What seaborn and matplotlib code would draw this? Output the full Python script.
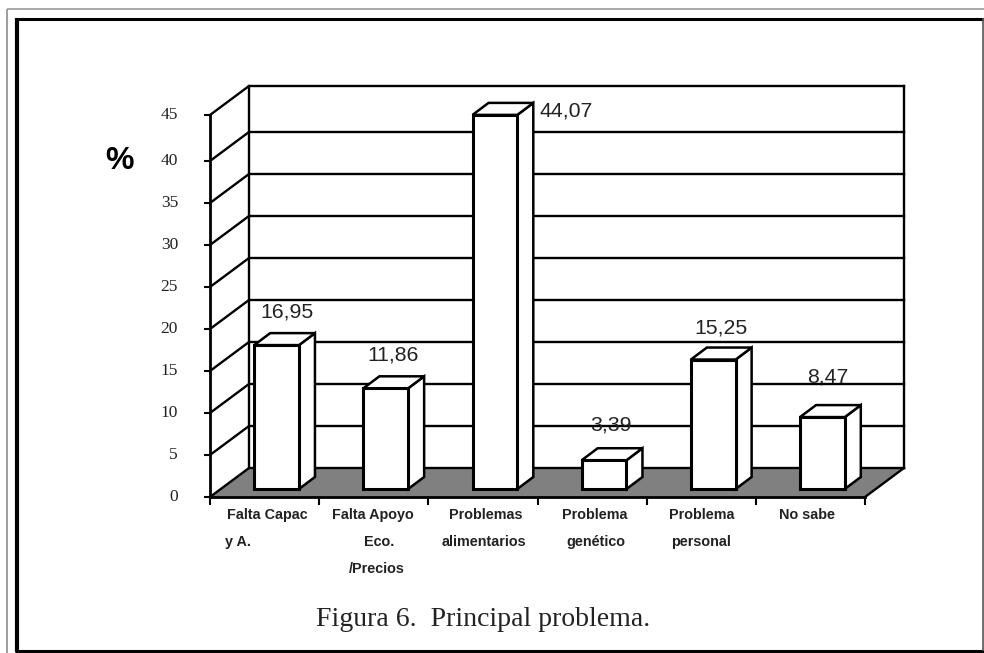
import matplotlib
matplotlib.use("Agg")
import matplotlib.pyplot as plt
from matplotlib.patches import Polygon
from matplotlib.transforms import ScaledTranslation
import numpy as np
import pandas as pd
import seaborn as sns

W, H = 984, 653

# valores
categorias = ["Falta Capac y A.", "Falta Apoyo Eco. /Precios", "Problemas alimentarios",
              "Problema genético", "Problema personal", "No sabe"]
valores = [16.95, 11.86, 44.07, 3.39, 15.25, 8.47]
etiquetas = ["16,95", "11,86", "44,07", "3,39", "15,25", "8,47"]
ticks_y = [0, 5, 10, 15, 20, 25, 30, 35, 40, 45]

# lineas de cada etiqueta del eje x: (texto, x centro, y centro) en pixeles
lineas_x = [("Falta Capac", 267, 515), ("y A.", 238, 542),
            ("Falta Apoyo", 373, 515), ("Eco.", 379, 542), ("/Precios", 377, 569),
            ("Problemas", 486, 515), ("alimentarios", 484, 542),
            ("Problema", 595, 515), ("genético", 596, 542),
            ("Problema", 702, 515), ("personal", 701, 542),
            ("No sabe", 807, 515)]
pos_etiquetas = [(287, 312), (393, 355), (566, 111), (611, 425), (721, 328), (828, 377)]


def ejes_px(fig, x0, x1, y0, y1):
    # y0 = pixel de abajo, y1 = pixel de arriba (desde arriba de la imagen)
    return fig.add_axes([x0 / W, 1 - y0 / H, (x1 - x0) / W, (y0 - y1) / H])


fig = plt.figure(figsize=(W / 100, H / 100), dpi=100)
fondo = fig.add_axes([0, 0, 1, 1])
fondo.set_xlim(0, W)
fondo.set_ylim(H, 0)
fondo.axis("off")

# marco de la pagina
fondo.plot([6.5, 6.5], [H, 9], color="#8c8c8c", lw=1.2, solid_capstyle="butt")
fondo.plot([6.5, W], [9, 9], color="#9a9a9a", lw=1.2, solid_capstyle="butt")
fondo.plot([16.5, 16.5], [17.5, 652], color="black", lw=3, solid_capstyle="butt")
fondo.plot([14.5, W], [18.8, 18.8], color="black", lw=2.2, solid_capstyle="butt")
fondo.plot([14.5, W], [650.5, 650.5], color="black", lw=2.2, solid_capstyle="butt")
fondo.plot([983, 983], [18, 651], color="#555555", lw=1.2, solid_capstyle="butt")

# plano frontal: cada 5 unidades son 42 px, el techo queda en y=115
ax = ejes_px(fig, 210, 865, 497, 115)
ax.patch.set_alpha(0)
uy = 42 / 5
ux = 655 / 6
techo = 382 / uy
ax.set_xlim(-0.5, 5.5)
ax.set_ylim(0, techo)
fx = 39 / ux
fy = 29 / uy
pos_y = [t for t in ticks_y[:-1]] + [techo]

# suelo y paredes del grafico 3D
ax.add_patch(Polygon([(-0.5, 0), (5.5, 0), (5.5 + fx, fy), (-0.5 + fx, fy)],
                     closed=True, fc="#808080", ec="none", clip_on=False, zorder=1))
for t in pos_y:
    ax.plot([-0.5, -0.5 + fx, 5.5 + fx], [t, t + fy, t + fy], color="black", lw=1.7,
            clip_on=False, zorder=2, solid_joinstyle="miter")
ax.plot([-0.5 + fx, -0.5 + fx], [fy, techo + fy], color="black", lw=1.7, clip_on=False, zorder=2)
ax.plot([5.5 + fx, 5.5 + fx], [fy, techo + fy], color="black", lw=1.7, clip_on=False, zorder=2)
ax.plot([5.5, 5.5 + fx], [0, fy], color="black", lw=1.7, clip_on=False, zorder=2)

for s in ["top", "right"]:
    ax.spines[s].set_visible(False)
for s in ["left", "bottom"]:
    ax.spines[s].set_linewidth(2)
    ax.spines[s].set_zorder(3)
ax.set_xticks(np.arange(-0.5, 6, 1))
ax.set_xticklabels([])
ax.tick_params(axis="x", length=5.5, width=1.5, color="black")
ax.set_yticks(pos_y)
ax.set_yticklabels([str(t) for t in ticks_y], fontsize=12.5, family="Liberation Serif", color="#222222")
ax.tick_params(axis="y", length=4, width=1.5, pad=19)
subir = ScaledTranslation(0, 2 / 100, fig.dpi_scale_trans)
for lbl in ax.get_yticklabels():
    lbl.set_transform(lbl.get_transform() + subir)

# barras: plano desplazado (12, -8) px respecto al frontal
ax_b = ejes_px(fig, 222, 877, 489, 107)
ax_b.patch.set_alpha(0)
df = pd.DataFrame({"categoria": categorias, "valor": valores})
sns.barplot(data=df, x="categoria", y="valor", ax=ax_b, color="white", saturation=1,
            width=0.41, edgecolor="black", linewidth=2.2, errorbar=None, zorder=5)
ax_b.set_xlim(-0.5, 5.5)
ax_b.set_ylim(0, 45)
ax_b.axis("off")

# caras lateral y superior de cada barra
bx = 16 / ux
by = 12 / (382 / 45)
for p in list(ax_b.patches):
    x0, x1, h = p.get_x(), p.get_x() + p.get_width(), p.get_height()
    ax_b.add_patch(Polygon([(x1, 0), (x1 + bx, by), (x1 + bx, h + by), (x1, h)], closed=True,
                           fc="white", ec="black", lw=1.8, clip_on=False, zorder=4))
    ax_b.add_patch(Polygon([(x0, h), (x0 + bx, h + by), (x1 + bx, h + by), (x1, h)], closed=True,
                           fc="white", ec="black", lw=1.8, clip_on=False, zorder=4))
    p.set_clip_on(False)

# textos encima de todo
top = fig.add_axes([0, 0, 1, 1])
top.set_xlim(0, W)
top.set_ylim(H, 0)
top.axis("off")
for (x, y), e in zip(pos_etiquetas, etiquetas):
    top.text(x, y, e, ha="center", va="center", fontsize=15.3, family="Liberation Sans", color="#222222")
for txt, x, y in lineas_x:
    top.text(x, y, txt, ha="center", va="center", fontsize=10.4, family="Liberation Sans",
             fontweight="bold", color="#222222")
top.text(120, 161, "%", ha="center", va="center", fontsize=23, family="Liberation Sans", fontweight="bold")
top.text(483.5, 620, "Figura 6.  Principal problema.", ha="center", va="center", fontsize=20,
         family="Liberation Serif", color="#222222")

fig.savefig("out.png", dpi=100)
